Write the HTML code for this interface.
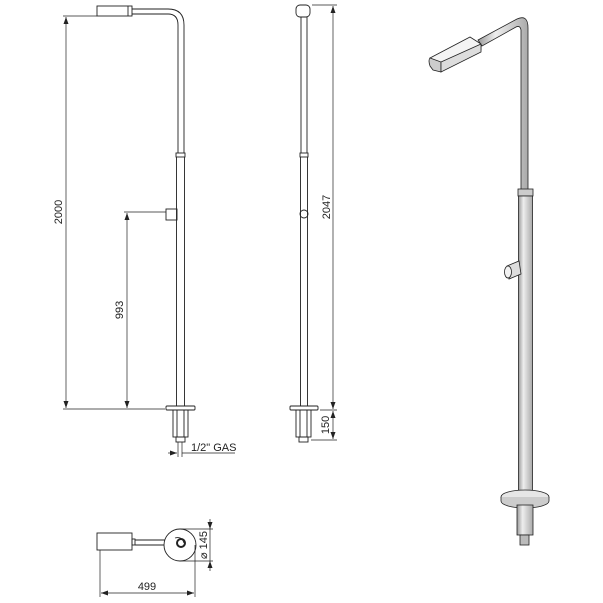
<!DOCTYPE html>
<html><head><style>body{margin:0;background:#fff}svg{display:block}text{font-family:"Liberation Sans",sans-serif;font-size:11px;fill:#222}</style></head>
<body>
<svg width="603" height="603" viewBox="0 0 603 603" xmlns="http://www.w3.org/2000/svg">
<defs>
<linearGradient id="g" x1="0" x2="1"><stop offset="0" stop-color="#999"/><stop offset=".35" stop-color="#eee"/><stop offset="1" stop-color="#aaa"/></linearGradient>
<marker id="a" markerWidth="8" markerHeight="8" refX="7" refY="4" orient="auto-start-reverse" markerUnits="userSpaceOnUse"><path d="M0,1.5L7,4L0,6.5z" fill="#222"/></marker>
</defs>
<g fill="none" stroke="#222" stroke-width="0.9">
<rect x="97" y="6" width="35" height="10" fill="#fff"/>
<line x1="128" y1="6" x2="128" y2="16"/>
<path d="M132,9 H168 Q184,9 184,25 V153 M132,14 H168 Q178,14 178,25 V153"/>
<rect x="176" y="153" width="9" height="4"/>
<path d="M176.5,157 V406 M184.5,157 V406"/>
<rect x="166" y="209" width="11" height="11"/>
<rect x="166" y="406" width="29" height="4" rx="1"/>
<rect x="173" y="410" width="15" height="27"/>
<path d="M177,410 V437 M184,410 V437"/>
<rect x="176" y="437" width="9" height="5"/>
<path stroke-width="0.7" d="M63,16 H97 M63,409 H165 M124,212 H166"/>
<line x1="66" y1="17" x2="66" y2="408" stroke-width="0.7" marker-start="url(#a)" marker-end="url(#a)"/>
<line x1="127" y1="213" x2="127" y2="408" stroke-width="0.7" marker-start="url(#a)" marker-end="url(#a)"/>
<path stroke-width="0.7" d="M178,442 V457 M182,442 V457 M182,453 H235"/>
<line x1="168" y1="453" x2="177" y2="453" stroke-width="0.7" marker-end="url(#a)"/>
<rect x="296" y="5" width="14" height="12" rx="4"/>
<path d="M301,17 V153 M307,17 V153"/>
<rect x="300" y="153" width="8" height="4"/>
<path d="M300.5,157 V406 M307.5,157 V406"/>
<circle cx="304" cy="214" r="4"/>
<rect x="290" y="406" width="28" height="4" rx="1"/>
<rect x="296" y="410" width="15" height="27"/>
<path d="M300,410 V437 M307,410 V437"/>
<rect x="299" y="437" width="9" height="5"/>
<path stroke-width="0.7" d="M312,5 H337 M320,410 H337 M311,440 H337"/>
<line x1="333" y1="6" x2="333" y2="409" stroke-width="0.7" marker-start="url(#a)" marker-end="url(#a)"/>
<line x1="333" y1="411" x2="333" y2="439" stroke-width="0.7" marker-start="url(#a)" marker-end="url(#a)"/>
<rect x="97" y="533" width="35" height="17"/>
<rect x="132" y="539" width="3" height="6"/>
<path d="M135,540 H175 M135,545 H175"/>
<circle cx="180" cy="545" r="16" fill="#fff"/>
<circle cx="181" cy="543" r="4" stroke-width="2"/>
<path d="M175,538 Q182,536 184,543"/>
<path stroke-width="0.7" d="M180,529 H213 M180,561 H213 M100,550 V597 M195,545 V597"/>
<line x1="210" y1="519" x2="210" y2="529" stroke-width="0.7" marker-end="url(#a)"/>
<line x1="210" y1="571" x2="210" y2="561" stroke-width="0.7" marker-end="url(#a)"/>
<line x1="210" y1="529" x2="210" y2="561" stroke-width="0.7"/>
<line x1="101" y1="593" x2="194" y2="593" stroke-width="0.7" marker-start="url(#a)" marker-end="url(#a)"/>
</g>
<text transform="translate(62,212) rotate(-90)" text-anchor="middle">2000</text>
<text transform="translate(123,310) rotate(-90)" text-anchor="middle">993</text>
<text x="191" y="451">1/2" GAS</text>
<text transform="translate(330,207) rotate(-90)" text-anchor="middle">2047</text>
<text transform="translate(329,425) rotate(-90)" text-anchor="middle">150</text>
<text transform="translate(207,545) rotate(-90)" text-anchor="middle">⌀ 145</text>
<text x="147" y="590" text-anchor="middle">499</text>
<g stroke="#222" stroke-width="0.8">
<path d="M478,40 L517,19 Q528,14 528,28 V190 H521 V30 Q520,25 516,27 L482,46 Z" fill="url(#g)"/>
<path d="M430,58 L470,37 L481,44 L481,50 L441,71 Z" fill="#f4f4f4"/>
<path d="M430,58 Q428,60 430,66 L433,70 L441,72 L441,62 Z" fill="#ccc"/>
<path d="M441,62 L481,44 M441,62 L441,72 L481,52 L481,44" fill="#ddd"/>
<rect x="518" y="189" width="15" height="7" fill="#ccc"/>
<rect x="518.5" y="196" width="14" height="298" fill="url(#g)"/>
<path d="M507,266 L519,261 L521,274 L509,279 Z" fill="#ddd"/>
<ellipse cx="508" cy="272" rx="3.5" ry="6" fill="#f2f2f2"/>
<ellipse cx="525" cy="497" rx="24" ry="7" fill="#e6e6e6"/>
<path d="M501,497 V501 A24,7 0 0 0 549,501 V497" fill="#ccc"/>
<rect x="517" y="505" width="16" height="30" fill="url(#g)"/>
<rect x="520" y="535" width="9" height="10" fill="#bbb"/>
</g>
</svg>
</body></html>
